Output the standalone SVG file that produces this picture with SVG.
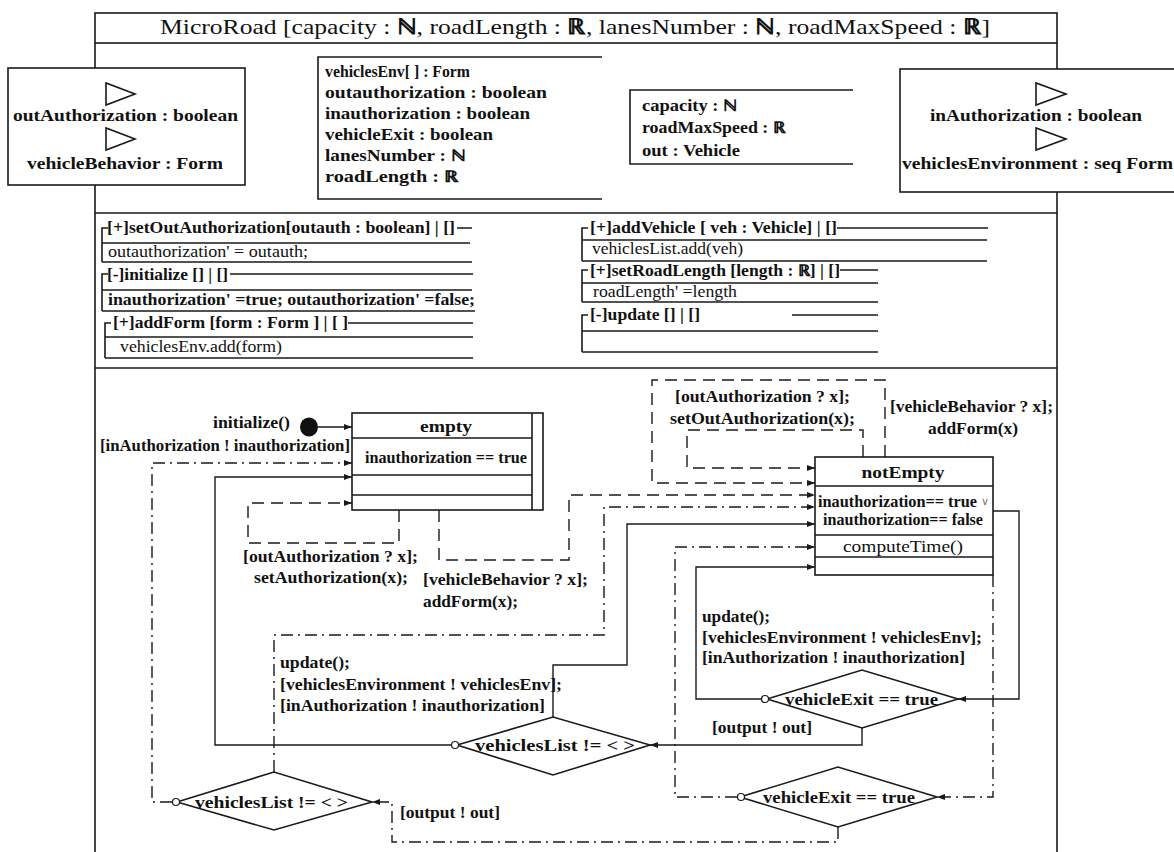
<svg xmlns="http://www.w3.org/2000/svg" width="1174" height="852" viewBox="0 0 1174 852">
<defs>
<style>
.b{stroke:#1a1a1a;stroke-width:1.6;fill:#fff}
.l{stroke:#1a1a1a;stroke-width:1.6;fill:none}
.c{stroke:#1a1a1a;stroke-width:1.4;fill:none}
.da{stroke-dasharray:12 7}
.dd{stroke-dasharray:12 5 2 5}
.t{font-family:"Liberation Serif","Times New Roman",Times,serif;font-weight:bold;font-size:16px;fill:#111}
.r{font-weight:normal}
.s17{font-size:17px}
.bb{font-weight:bold}
</style>
<marker id="ah" viewBox="0 0 8 6" refX="8" refY="3" markerWidth="8" markerHeight="6" orient="auto" markerUnits="userSpaceOnUse"><path d="M0,0 L8,3 L0,6 z" fill="#1a1a1a"/></marker>
</defs>
<rect width="1174" height="852" fill="#fff"/>

<g id="frame">
<rect class="b" x="95" y="13" width="962" height="30"/>
<path class="l" d="M95,43 V852 M1057,43 V852 M95,213 H1057 M95,368 H1057"/>
<text class="t r" x="160" y="34" style="font-size:22px" textLength="830" lengthAdjust="spacingAndGlyphs">MicroRoad [capacity : <tspan class="bb">ℕ</tspan>, roadLength : <tspan class="bb">ℝ</tspan>, lanesNumber : <tspan class="bb">ℕ</tspan>, roadMaxSpeed : <tspan class="bb">ℝ</tspan>]</text>
</g>

<g id="outPorts">
<rect class="b" x="8" y="68" width="237" height="117"/>
<polygon class="b" points="106,83 106,105 135,94"/>
<polygon class="b" points="106,128 106,150 135,139"/>
<text class="t s17" x="13" y="121" textLength="225" lengthAdjust="spacingAndGlyphs">outAuthorization : boolean</text>
<text class="t s17" x="27" y="169" textLength="196" lengthAdjust="spacingAndGlyphs">vehicleBehavior : Form</text>
</g>

<g id="stateVars">
<path class="b" d="M602,57 H318 V199 H602"/>
<text class="t" x="325" y="77" textLength="145" lengthAdjust="spacingAndGlyphs">vehiclesEnv[ ] : Form</text>
<text class="t" x="325" y="98" textLength="222" lengthAdjust="spacingAndGlyphs">outauthorization : boolean</text>
<text class="t" x="325" y="119" textLength="205" lengthAdjust="spacingAndGlyphs">inauthorization : boolean</text>
<text class="t" x="325" y="140" textLength="168" lengthAdjust="spacingAndGlyphs">vehicleExit : boolean</text>
<text class="t" x="325" y="161" textLength="140" lengthAdjust="spacingAndGlyphs">lanesNumber : ℕ</text>
<text class="t" x="325" y="182" textLength="133" lengthAdjust="spacingAndGlyphs">roadLength : ℝ</text>
</g>

<g id="constants">
<path class="b" d="M853,90 H630 V164 H853"/>
<text class="t" x="642" y="111" textLength="95" lengthAdjust="spacingAndGlyphs">capacity : ℕ</text>
<text class="t" x="642" y="133" textLength="143" lengthAdjust="spacingAndGlyphs">roadMaxSpeed : ℝ</text>
<text class="t" x="642" y="156" textLength="98" lengthAdjust="spacingAndGlyphs">out : Vehicle</text>
</g>

<g id="inPorts">
<rect class="b" x="900" y="69" width="285" height="123"/>
<polygon class="b" points="1036,83 1036,105 1066,94"/>
<polygon class="b" points="1036,128 1036,150 1066,139"/>
<text class="t s17" x="930" y="121" textLength="212" lengthAdjust="spacingAndGlyphs">inAuthorization : boolean</text>
<text class="t s17" x="902" y="169" textLength="271" lengthAdjust="spacingAndGlyphs">vehiclesEnvironment : seq Form</text>
</g>

<g id="op-setOutAuthorization">
<path class="l" d="M108,228 H102 V262 M457,228 H472 M102,243 H470 M102,262 H472"/>
<text class="t" x="107" y="233" textLength="348" lengthAdjust="spacingAndGlyphs">[+]setOutAuthorization[outauth : boolean] | []</text>
<text class="t r" x="108" y="257" textLength="200" lengthAdjust="spacingAndGlyphs">outauthorization' = outauth;</text>
</g>
<g id="op-initialize">
<path class="l" d="M108,274 H102 V311 M230,274 H473 M102,290 H472 M102,311 H475"/>
<text class="t" x="107" y="280" textLength="121" lengthAdjust="spacingAndGlyphs">[-]initialize [] | []</text>
<text class="t" x="108" y="305" textLength="367" lengthAdjust="spacingAndGlyphs">inauthorization' =true; outauthorization' =false;</text>
</g>
<g id="op-addForm">
<path class="l" d="M111,323 H105 V358 M348,323 H473 M105,337 H473 M105,358 H473"/>
<text class="t" x="113" y="328" textLength="235" lengthAdjust="spacingAndGlyphs">[+]addForm [form : Form ] | [ ]</text>
<text class="t r" x="120" y="352" textLength="162" lengthAdjust="spacingAndGlyphs">vehiclesEnv.add(form)</text>
</g>
<g id="op-addVehicle">
<path class="l" d="M588,228 H582 V261 M837,228 H988 M582,240 H987 M582,261 H987"/>
<text class="t" x="590" y="233" textLength="247" lengthAdjust="spacingAndGlyphs">[+]addVehicle [ veh : Vehicle] | []</text>
<text class="t r" x="592" y="254" textLength="151" lengthAdjust="spacingAndGlyphs">vehiclesList.add(veh)</text>
</g>
<g id="op-setRoadLength">
<path class="l" d="M588,270 H582 V302 M840,270 H878 M582,283 H878 M582,302 H878"/>
<text class="t" x="590" y="276" textLength="250" lengthAdjust="spacingAndGlyphs">[+]setRoadLength [length : ℝ] | []</text>
<text class="t r" x="593" y="297" textLength="144" lengthAdjust="spacingAndGlyphs">roadLength' =length</text>
</g>
<g id="op-update">
<path class="l" d="M588,315 H582 V352 M792,315 H878 M582,331 H878 M582,352 H878"/>
<text class="t" x="590" y="320" textLength="110" lengthAdjust="spacingAndGlyphs">[-]update [] | []</text>
</g>

<g id="initial">
<ellipse cx="309" cy="427" rx="9" ry="9.5" fill="#111"/>
<text class="t" x="213" y="428" textLength="77" lengthAdjust="spacingAndGlyphs">initialize()</text>
</g>

<g id="empty">
<rect class="b" x="352" y="413" width="191" height="97"/>
<path class="l" d="M532,413 V510 M352,438 H532 M352,475 H532 M352,495 H532"/>
<text class="t s17" x="446" y="432" text-anchor="middle" textLength="52" lengthAdjust="spacingAndGlyphs">empty</text>
<text class="t" x="365" y="463" textLength="162" lengthAdjust="spacingAndGlyphs">inauthorization == true</text>
</g>

<g id="notEmpty">
<rect class="b" x="815" y="457" width="178" height="118"/>
<path class="l" d="M815,486 H993 M815,535 H993 M815,557 H993"/>
<text class="t s17" x="903" y="478" text-anchor="middle" textLength="83" lengthAdjust="spacingAndGlyphs">notEmpty</text>
<text class="t" x="818" y="507" textLength="159" lengthAdjust="spacingAndGlyphs">inauthorization== true</text>
<text class="t r" x="981" y="505" style="font-size:11px;fill:#777">∨</text>
<text class="t" x="823" y="525" textLength="160" lengthAdjust="spacingAndGlyphs">inauthorization== false</text>
<text class="t r" x="843" y="552" textLength="120" lengthAdjust="spacingAndGlyphs">computeTime()</text>
</g>

<g id="choice-vehiclesList-1">
<polygon class="b" points="457,745 553,717 650,745 553,775"/>
<circle class="b" cx="455" cy="745" r="3.5" style="stroke-width:1.2"/>
<text class="t" x="475" y="751" textLength="160" lengthAdjust="spacingAndGlyphs">vehiclesList != &lt; &gt;</text>
</g>
<g id="choice-vehiclesList-2">
<polygon class="b" points="177,802 274,772 372,802 274,830"/>
<circle class="b" cx="176" cy="802" r="3.5" style="stroke-width:1.2"/>
<text class="t" x="195" y="808" textLength="153" lengthAdjust="spacingAndGlyphs">vehiclesList != &lt; &gt;</text>
</g>
<g id="choice-vehicleExit-1">
<polygon class="b" points="767,699 862,670 958,699 862,728"/>
<circle class="b" cx="765" cy="699" r="3.5" style="stroke-width:1.2"/>
<text class="t" x="785" y="705" textLength="153" lengthAdjust="spacingAndGlyphs">vehicleExit == true</text>
</g>
<g id="choice-vehicleExit-2">
<polygon class="b" points="740,797 838,767 937,797 838,827"/>
<circle class="b" cx="741" cy="797" r="3.5" style="stroke-width:1.2"/>
<text class="t" x="763" y="803" textLength="152" lengthAdjust="spacingAndGlyphs">vehicleExit == true</text>
</g>

<g id="connectors">
<path class="c" d="M318,427 H352" marker-end="url(#ah)"/>
<path class="c dd" d="M172,802 H152 V463 H352" marker-end="url(#ah)"/>
<path class="c" d="M451,745 H215 V477 H352" marker-end="url(#ah)"/>
<path class="c da" d="M399,510 V543 H248 V503 H352" marker-end="url(#ah)"/>
<path class="c da" d="M439,510 V560 H569 V495 H815" marker-end="url(#ah)"/>
<path class="c dd" d="M274,772 V635 H604 V507 H815" marker-end="url(#ah)"/>
<path class="c" d="M553,717 V665 H627 V524 H815" marker-end="url(#ah)"/>
<path class="c da" d="M863,457 V430 H687 V468 H815" marker-end="url(#ah)"/>
<path class="c da" d="M885,457 V380 H652 V483 H815" marker-end="url(#ah)"/>
<path class="c" d="M993,511 H1019 V699 H958" marker-end="url(#ah)"/>
<path class="c" d="M761,699 H696 V567 H815" marker-end="url(#ah)"/>
<path class="c" d="M862,728 V745 H650" marker-end="url(#ah)"/>
<path class="c dd" d="M993,575 V797 H937" marker-end="url(#ah)"/>
<path class="c dd" d="M737,797 H675 V547 H815" marker-end="url(#ah)"/>
<path class="c dd" d="M838,827 V842 H392 V802 H372" marker-end="url(#ah)"/>

<text class="t" x="100" y="451" textLength="250" lengthAdjust="spacingAndGlyphs">[inAuthorization ! inauthorization]</text>
<text class="t" x="243" y="562" textLength="175" lengthAdjust="spacingAndGlyphs">[outAuthorization ? x];</text>
<text class="t" x="254" y="583" textLength="154" lengthAdjust="spacingAndGlyphs">setAuthorization(x);</text>
<text class="t" x="423" y="585" textLength="165" lengthAdjust="spacingAndGlyphs">[vehicleBehavior ? x];</text>
<text class="t" x="423" y="607" textLength="95" lengthAdjust="spacingAndGlyphs">addForm(x);</text>
<text class="t" x="280" y="668" textLength="70" lengthAdjust="spacingAndGlyphs">update();</text>
<text class="t" x="280" y="690" textLength="282" lengthAdjust="spacingAndGlyphs">[vehiclesEnvironment ! vehiclesEnv];</text>
<text class="t" x="280" y="711" textLength="265" lengthAdjust="spacingAndGlyphs">[inAuthorization ! inauthorization]</text>
<text class="t" x="675" y="402" textLength="175" lengthAdjust="spacingAndGlyphs">[outAuthorization ? x];</text>
<text class="t" x="670" y="424" textLength="185" lengthAdjust="spacingAndGlyphs">setOutAuthorization(x);</text>
<text class="t" x="890" y="412" textLength="163" lengthAdjust="spacingAndGlyphs">[vehicleBehavior ? x];</text>
<text class="t" x="928" y="434" textLength="90" lengthAdjust="spacingAndGlyphs">addForm(x)</text>
<text class="t" x="702" y="622" textLength="68" lengthAdjust="spacingAndGlyphs">update();</text>
<text class="t" x="702" y="643" textLength="280" lengthAdjust="spacingAndGlyphs">[vehiclesEnvironment ! vehiclesEnv];</text>
<text class="t" x="702" y="663" textLength="263" lengthAdjust="spacingAndGlyphs">[inAuthorization ! inauthorization]</text>
<text class="t" x="712" y="733" textLength="100" lengthAdjust="spacingAndGlyphs">[output ! out]</text>
<text class="t" x="400" y="818" textLength="100" lengthAdjust="spacingAndGlyphs">[output ! out]</text>
</g>
</svg>
